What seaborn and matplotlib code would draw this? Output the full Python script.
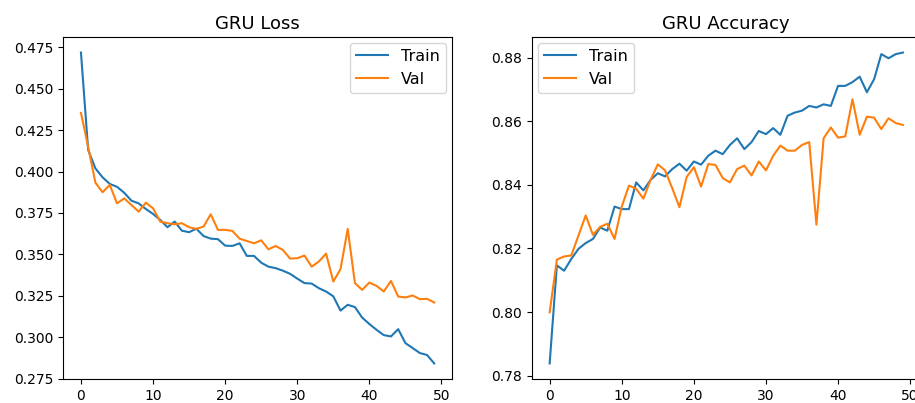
import matplotlib
matplotlib.use("Agg")
import matplotlib.pyplot as plt
import seaborn as sns
import numpy as np

epochs = list(range(50))

loss_train = [0.4718, 0.4130, 0.4019, 0.3965, 0.3925, 0.3908, 0.3872, 0.3824, 0.3808, 0.3774,
              0.3744, 0.3708, 0.3664, 0.3698, 0.3643, 0.3634, 0.3655, 0.3611, 0.3595, 0.3592,
              0.3553, 0.3551, 0.3567, 0.3491, 0.3491, 0.3450, 0.3426, 0.3417, 0.3402, 0.3383,
              0.3354, 0.3327, 0.3324, 0.3296, 0.3276, 0.3247, 0.3161, 0.3196, 0.3182, 0.3119,
              0.3080, 0.3045, 0.3013, 0.3005, 0.3049, 0.2965, 0.2935, 0.2905, 0.2893, 0.2842]
loss_val = [0.4354, 0.4149, 0.3933, 0.3875, 0.3919, 0.3808, 0.3838, 0.3798, 0.3758, 0.3812,
            0.3778, 0.3698, 0.3688, 0.3682, 0.3688, 0.3664, 0.3654, 0.3668, 0.3742, 0.3648,
            0.3648, 0.3642, 0.3595, 0.3581, 0.3567, 0.3585, 0.3531, 0.3551, 0.3527, 0.3475,
            0.3477, 0.3493, 0.3426, 0.3457, 0.3505, 0.3336, 0.3411, 0.3654, 0.3327, 0.3286,
            0.3330, 0.3310, 0.3276, 0.3340, 0.3246, 0.3240, 0.3252, 0.3230, 0.3232, 0.3210]

acc_train = [0.7838, 0.8147, 0.8130, 0.8167, 0.8199, 0.8217, 0.8230, 0.8266, 0.8256, 0.8332,
             0.8324, 0.8324, 0.8408, 0.8383, 0.8416, 0.8437, 0.8427, 0.8450, 0.8467, 0.8445,
             0.8474, 0.8464, 0.8492, 0.8508, 0.8497, 0.8526, 0.8547, 0.8513, 0.8535, 0.8570,
             0.8560, 0.8579, 0.8558, 0.8618, 0.8628, 0.8634, 0.8649, 0.8644, 0.8654, 0.8649,
             0.8712, 0.8712, 0.8724, 0.8741, 0.8692, 0.8733, 0.8812, 0.8799, 0.8812, 0.8817]
acc_val = [0.7999, 0.8165, 0.8175, 0.8178, 0.8241, 0.8304, 0.8243, 0.8268, 0.8278, 0.8230,
           0.8332, 0.8398, 0.8388, 0.8357, 0.8416, 0.8465, 0.8446, 0.8390, 0.8330, 0.8425,
           0.8456, 0.8395, 0.8466, 0.8463, 0.8422, 0.8408, 0.8450, 0.8461, 0.8430, 0.8474,
           0.8446, 0.8492, 0.8524, 0.8508, 0.8508, 0.8526, 0.8535, 0.8275, 0.8547, 0.8581,
           0.8549, 0.8553, 0.8670, 0.8558, 0.8615, 0.8612, 0.8576, 0.8610, 0.8595, 0.8589]

W, H = 915, 403
fig = plt.figure(figsize=(W / 100, H / 100), dpi=100)
ax1 = fig.add_axes([63.3 / W, (H - 379) / H, 388.6 / W, 342 / H])
ax2 = fig.add_axes([532 / W, (H - 379) / H, 388.6 / W, 342 / H])

c_train = "#1f77b4"
c_val = "#ff7f0e"

sns.lineplot(x=epochs, y=loss_train, ax=ax1, color=c_train, label="Train")
sns.lineplot(x=epochs, y=loss_val, ax=ax1, color=c_val, label="Val")
ax1.set_title("GRU Loss", fontsize=13)
ax1.legend(loc="upper right", fontsize=11.5, borderaxespad=0.35)

sns.lineplot(x=epochs, y=acc_train, ax=ax2, color=c_train, label="Train")
sns.lineplot(x=epochs, y=acc_val, ax=ax2, color=c_val, label="Val")
ax2.set_title("GRU Accuracy", fontsize=13)
ax2.legend(loc="upper left", fontsize=11.5, borderaxespad=0.35)

for ax in (ax1, ax2):
    ax.set_xticks([0, 10, 20, 30, 40, 50])

fig.savefig("out.png", dpi=100)
